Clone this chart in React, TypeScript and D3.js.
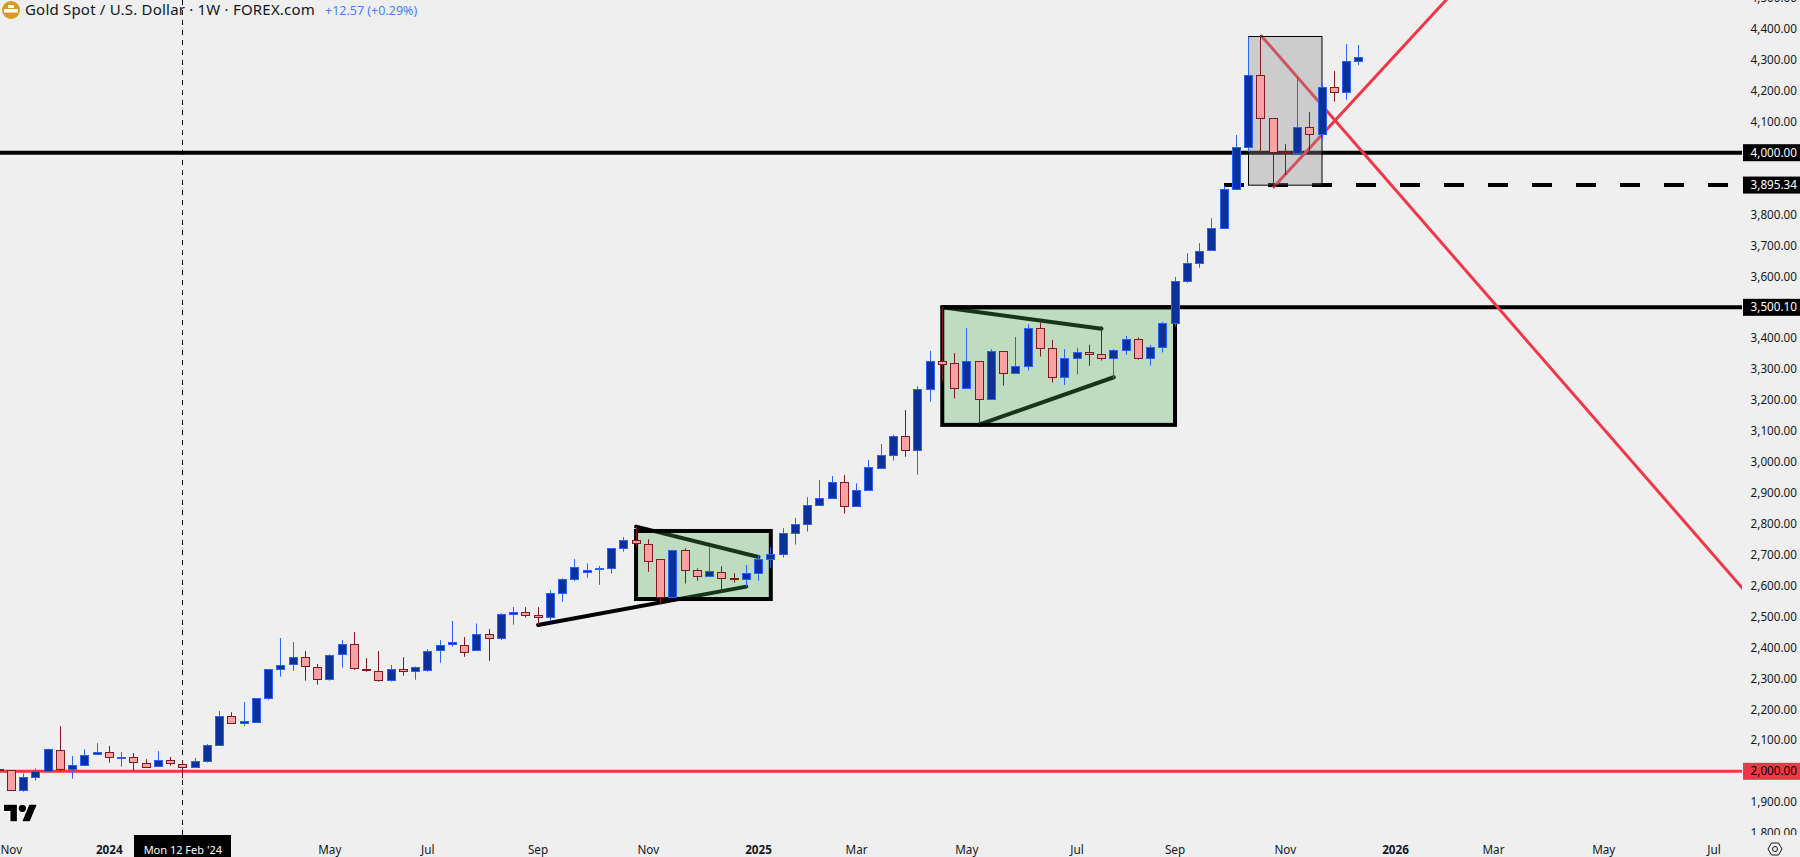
import React, { useEffect, useRef } from 'react';
import * as d3 from 'd3';

const WIDTH = 1800;
const HEIGHT = 857;

// Weekly candles; first entry is the week cut off at the left edge, second is 6 Nov 2023 (week 0)
const opens = [2006, 2003, 1938, 1980, 2002, 2070, 2006, 2019, 2055, 2063, 2045, 2047, 2028, 2016, 2037, 2024, 2013, 2034, 2084, 2180, 2155, 2158, 2236, 2330, 2346, 2370, 2338, 2300, 2378, 2413, 2332, 2325, 2294, 2332, 2323, 2326, 2391, 2410, 2408, 2392, 2443, 2430, 2507, 2514, 2504, 2498, 2578, 2621, 2643, 2653, 2656, 2721, 2747, 2736, 2685, 2562, 2714, 2650, 2633, 2645, 2626, 2621, 2640, 2688, 2701, 2769, 2798, 2860, 2882, 2934, 2857, 2908, 2982, 3022, 3083, 3038, 3235, 3326, 3319, 3238, 3326, 3203, 3358, 3287, 3310, 3432, 3368, 3274, 3335, 3355, 3348, 3335, 3361, 3397, 3335, 3371, 3449, 3584, 3642, 3684, 3758, 3884, 4017, 4250, 4111, 4002, 3998, 4082, 4062, 4214, 4195, 4295];
const highs = [2006, 2003, 1993, 2009, 2073, 2146, 2049, 2071, 2091, 2082, 2062, 2059, 2039, 2065, 2046, 2036, 2043, 2088, 2195, 2191, 2224, 2236, 2330, 2431, 2418, 2389, 2347, 2378, 2424, 2450, 2366, 2389, 2344, 2369, 2339, 2395, 2424, 2486, 2434, 2478, 2460, 2511, 2531, 2531, 2531, 2585, 2624, 2686, 2672, 2664, 2721, 2757, 2791, 2750, 2685, 2714, 2721, 2656, 2724, 2663, 2640, 2667, 2698, 2725, 2786, 2819, 2886, 2942, 2955, 2958, 2931, 3007, 3058, 3088, 3168, 3245, 3359, 3501, 3352, 3433, 3326, 3365, 3358, 3404, 3445, 3451, 3395, 3365, 3368, 3379, 3440, 3365, 3408, 3403, 3379, 3453, 3598, 3675, 3708, 3788, 3893, 4057, 4376, 4380, 4111, 4028, 4245, 4131, 4224, 4264, 4351, 4348];
const lows = [2005, 1938, 1934, 1970, 2002, 1998, 1976, 2018, 2054, 2028, 2015, 2002, 2011, 2015, 2018, 1977, 2012, 2028, 2083, 2154, 2147, 2158, 2231, 2306, 2325, 2293, 2280, 2293, 2335, 2328, 2322, 2290, 2290, 2309, 2296, 2322, 2351, 2403, 2370, 2389, 2357, 2424, 2474, 2497, 2473, 2487, 2548, 2615, 2626, 2603, 2639, 2710, 2726, 2645, 2540, 2562, 2607, 2616, 2629, 2584, 2610, 2597, 2616, 2658, 2691, 2733, 2775, 2860, 2882, 2833, 2857, 2908, 2982, 3005, 3017, 2959, 3195, 3260, 3205, 3238, 3121, 3203, 3247, 3287, 3296, 3341, 3257, 3249, 3283, 3311, 3328, 3270, 3347, 3331, 3312, 3354, 3438, 3579, 3628, 3684, 3758, 3884, 4003, 4003, 3887, 3928, 3998, 3995, 4041, 4165, 4171, 4283];
const closes = [2005, 1938, 1980, 2002, 2073, 2006, 2019, 2054, 2064, 2045, 2047, 2029, 2015, 2037, 2026, 2013, 2034, 2084, 2180, 2155, 2164, 2236, 2330, 2345, 2370, 2339, 2300, 2377, 2413, 2333, 2326, 2294, 2332, 2323, 2338, 2390, 2409, 2419, 2386, 2443, 2430, 2507, 2514, 2504, 2498, 2578, 2621, 2659, 2652, 2656, 2721, 2747, 2737, 2679, 2562, 2714, 2650, 2633, 2646, 2624, 2623, 2640, 2688, 2701, 2769, 2798, 2860, 2882, 2934, 2857, 2908, 2983, 3022, 3083, 3038, 3235, 3326, 3318, 3238, 3326, 3203, 3358, 3287, 3310, 3432, 3368, 3274, 3335, 3355, 3348, 3335, 3361, 3397, 3335, 3371, 3449, 3584, 3642, 3683, 3758, 3884, 4017, 4250, 4111, 4001, 4000, 4082, 4062, 4214, 4195, 4295, 4308];

const priceTicks = [4500, 4400, 4300, 4200, 4100, 3800, 3700, 3600, 3400, 3300, 3200, 3100, 3000, 2900, 2800, 2700, 2600, 2500, 2400, 2300, 2200, 2100, 1900, 1800];
const priceMarks = [4000, 3895.34, 3500.1];
const timeTicks: [number, string][] = [
  [0, 'Nov'], [8, '2024'], [26, 'May'], [34, 'Jul'], [43, 'Sep'], [52, 'Nov'], [61, '2025'], [69, 'Mar'],
  [78, 'May'], [87, 'Jul'], [95, 'Sep'], [104, 'Nov'], [113, '2026'], [121, 'Mar'], [130, 'May'], [139, 'Jul'],
];

// Drawings, as [week index, price] pairs
const greenBoxes = [
  { from: 51, to: 62, top: 2777, bottom: 2557 },
  { from: 76, to: 95, top: 3500.1, bottom: 3120 },
];
const grayBox = { from: 101, to: 107, top: 4376, bottom: 3895.34 };
const trendLines: [number, number, number, number][] = [
  [43, 2473, 60, 2597],
  [51, 2791, 61, 2693],
  [76, 3500, 89, 3431],
  [79, 3121, 90, 3274],
];
const redLines: [number, number, number, number][] = [
  [103, 3887, 118, 4531],
  [102, 4380, 142, 2561],
];
const crosshairWeek = 14;

const FONT = '"Noto Sans", sans-serif';
const fmt = d3.format(',.2f');

const App: React.FC = () => {
  const svgRef = useRef<SVGSVGElement>(null);

  useEffect(() => {
    if (!svgRef.current) return;
    const svg = d3.select(svgRef.current);
    svg.selectAll('*').remove();

    const x = d3.scaleLinear().domain([0, 139]).range([11.33, 1714]);
    const y = d3.scaleLinear().domain([2000, 4000]).range([771.3, 152.7]);
    const plotRight = 1742;
    const plotBottom = 835;

    svg.append('rect').attr('width', WIDTH).attr('height', HEIGHT).attr('fill', '#efefef');

    const defs = svg.append('defs');
    defs.append('clipPath').attr('id', 'plot')
      .append('rect').attr('width', plotRight).attr('height', plotBottom);
    defs.append('clipPath').attr('id', 'axis')
      .append('rect').attr('x', plotRight).attr('width', WIDTH - plotRight).attr('height', plotBottom);

    const plot = svg.append('g').attr('clip-path', 'url(#plot)');

    // Crosshair
    plot.append('line')
      .attr('x1', Math.floor(x(crosshairWeek)) + 0.5)
      .attr('x2', Math.floor(x(crosshairWeek)) + 0.5)
      .attr('y1', 0)
      .attr('y2', plotBottom)
      .attr('stroke', '#000')
      .attr('stroke-dasharray', '5,5');

    // Horizontal levels
    const level = (price: number, start: number, color: string, w: number, dash?: string) =>
      plot.append('line')
        .attr('x1', start).attr('x2', plotRight)
        .attr('y1', y(price)).attr('y2', y(price))
        .attr('stroke', color).attr('stroke-width', w)
        .attr('stroke-dasharray', dash ?? null);
    level(4000, 0, '#000', 4);
    level(3895.34, x(99), '#000', 4, '20,24');
    level(3500.1, x(76), '#000', 4);
    level(2000, 0, '#f23645', 3);

    // Trend lines sit under the boxes
    trendLines.forEach(([a, pa, b, pb]) => {
      plot.append('line')
        .attr('x1', x(a)).attr('y1', y(pa)).attr('x2', x(b)).attr('y2', y(pb))
        .attr('stroke', '#000').attr('stroke-width', 4).attr('stroke-linecap', 'round');
    });
    redLines.forEach(([a, pa, b, pb]) => {
      plot.append('line')
        .attr('x1', x(a)).attr('y1', y(pa)).attr('x2', x(b)).attr('y2', y(pb))
        .attr('stroke', '#f23645').attr('stroke-width', 3);
    });

    greenBoxes.forEach(b => {
      plot.append('rect')
        .attr('x', x(b.from)).attr('y', y(b.top))
        .attr('width', x(b.to) - x(b.from)).attr('height', y(b.bottom) - y(b.top))
        .attr('fill', 'rgba(76,175,80,0.3)')
        .attr('stroke', '#000').attr('stroke-width', 4);
    });
    plot.append('rect')
      .attr('x', Math.floor(x(grayBox.from)) + 0.5).attr('y', Math.floor(y(grayBox.top)) + 0.5)
      .attr('width', x(grayBox.to) - x(grayBox.from)).attr('height', y(grayBox.bottom) - y(grayBox.top))
      .attr('fill', 'rgba(142,142,142,0.36)')
      .attr('stroke', '#000').attr('stroke-width', 1);

    // Candles
    opens.forEach((open, i) => {
      const close = closes[i];
      const up = close >= open;
      const cx = Math.floor(x(i - 1)) + 0.5;
      const top = Math.round(y(Math.max(open, close))) + 0.5;
      const bottom = Math.round(y(Math.min(open, close))) + 0.5;
      const edge = up ? '#2962ff' : '#801922';
      const g = plot.append('g');
      g.append('line')
        .attr('x1', cx).attr('x2', cx)
        .attr('y1', y(highs[i])).attr('y2', y(lows[i]))
        .attr('stroke', edge);
      g.append('rect')
        .attr('x', cx - 4).attr('y', top)
        .attr('width', 8).attr('height', Math.max(bottom - top, 1))
        .attr('fill', up ? '#0c3299' : '#faa1a4')
        .attr('stroke', edge);
    });

    // Price axis
    const axis = svg.append('g').attr('clip-path', 'url(#axis)')
      .attr('font-family', FONT).attr('font-size', 11.7).attr('text-anchor', 'end');
    priceTicks.forEach(p => {
      axis.append('text')
        .attr('x', 1797).attr('y', y(p)).attr('dy', '0.35em')
        .attr('fill', '#131722').text(fmt(p));
    });
    priceMarks.forEach(p => {
      axis.append('rect')
        .attr('x', 1743).attr('y', y(p) - 8.5).attr('width', 57).attr('height', 17).attr('fill', '#000');
      axis.append('text')
        .attr('x', 1797).attr('y', y(p)).attr('dy', '0.35em')
        .attr('fill', '#fff').text(fmt(p));
    });
    axis.append('rect')
      .attr('x', 1743).attr('y', y(2000) - 8.5).attr('width', 57).attr('height', 17).attr('fill', '#f23645');
    axis.append('text')
      .attr('x', 1797).attr('y', y(2000)).attr('dy', '0.35em')
      .attr('fill', '#000').text(fmt(2000));

    // Time axis
    const timeAxis = svg.append('g')
      .attr('font-family', FONT).attr('font-size', 11.7).attr('text-anchor', 'middle');
    timeTicks.forEach(([week, label]) => {
      timeAxis.append('text')
        .attr('x', Math.max(x(week), 11)).attr('y', 854)
        .attr('fill', '#131722')
        .attr('font-weight', /\d/.test(label) ? 'bold' : null)
        .text(label);
    });
    timeAxis.append('rect')
      .attr('x', 134).attr('y', plotBottom).attr('width', 97).attr('height', HEIGHT - plotBottom).attr('fill', '#000');
    timeAxis.append('text')
      .attr('x', x(crosshairWeek)).attr('y', 854).attr('font-size', 11).attr('fill', '#fff').text("Mon 12 Feb '24");

    // Settings glyph
    const gear = svg.append('g').attr('transform', 'translate(1775,849)')
      .attr('fill', 'none').attr('stroke', '#131722');
    gear.append('path').attr('d', 'M-7,0 L-3.5,-6 L3.5,-6 L7,0 L3.5,6 L-3.5,6 Z');
    gear.append('circle').attr('r', 2.5);

    // TradingView mark
    const logo = svg.append('g').attr('transform', 'translate(4,801) scale(0.92)');
    logo.append('path')
      .attr('d', 'M14 22H7V11H0V4h14v18ZM28 22h-8l7.5-18h8L28 22Z')
      .attr('fill', '#000').attr('stroke', '#fff').attr('stroke-width', 2).attr('paint-order', 'stroke');
    logo.append('circle').attr('cx', 20).attr('cy', 8).attr('r', 4)
      .attr('fill', '#000').attr('stroke', '#fff').attr('stroke-width', 2).attr('paint-order', 'stroke');

    // Title
    const icon = svg.append('g').attr('transform', 'translate(11,10)');
    icon.append('circle').attr('r', 9).attr('fill', '#d99a1e');
    icon.append('rect').attr('x', -3).attr('y', -5).attr('width', 6).attr('height', 3).attr('fill', '#fff');
    icon.append('rect').attr('x', -7).attr('y', -1).attr('width', 14).attr('height', 3.5).attr('fill', '#fff');

    svg.append('text')
      .attr('x', 25).attr('y', 15).attr('font-family', FONT).attr('font-size', 15)
      .attr('letter-spacing', 0.2)
      .attr('fill', '#131722').text('Gold Spot / U.S. Dollar · 1W · FOREX.com');
    svg.append('text')
      .attr('x', 325).attr('y', 15).attr('font-family', FONT).attr('font-size', 12.5)
      .attr('fill', '#4a7dff').text('+12.57 (+0.29%)');
  }, []);

  return (
    <svg
      ref={svgRef}
      width={WIDTH}
      height={HEIGHT}
      style={{ position: 'fixed', left: 0, top: 0, display: 'block' }}
    />
  );
};

export default App;
